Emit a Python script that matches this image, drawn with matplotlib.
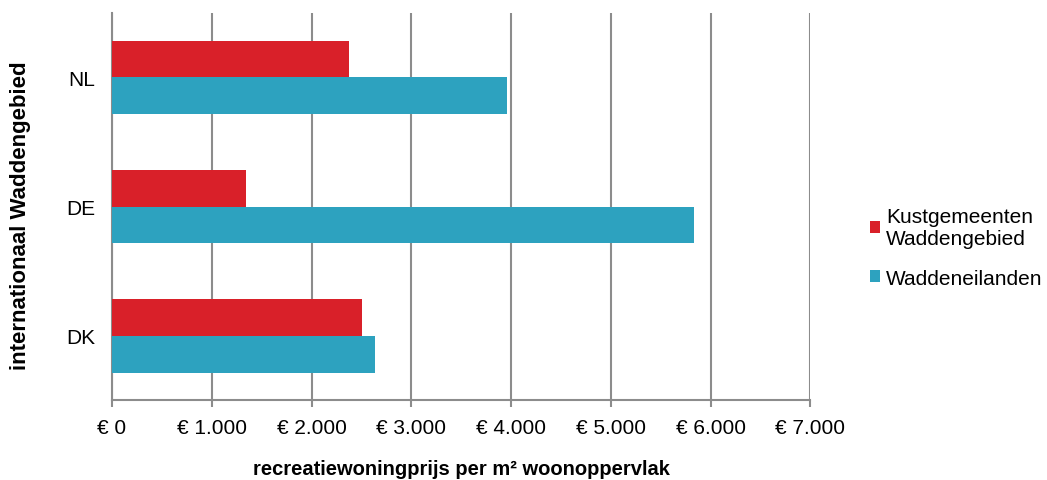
import numpy as np
import matplotlib.pyplot as plt

plt.rcParams['font.family'] = ['Liberation Sans', 'DejaVu Sans']

regions = ['DK', 'DE', 'NL']
kust = [2510, 1340, 2380]
eilanden = [2640, 5830, 3960]
ticks = [0, 1000, 2000, 3000, 4000, 5000, 6000, 7000]
tick_labels = ['€ 0', '€ 1.000', '€ 2.000', '€ 3.000', '€ 4.000', '€ 5.000', '€ 6.000', '€ 7.000']

red = '#D92029'
blue = '#2DA2BF'
grid = '#8C8C8C'

fig = plt.figure(figsize=(10.47, 4.81), dpi=100)
ax = fig.add_axes([0.107, 0.166, 0.667, 0.805])

y = np.arange(len(regions))
h = 0.286
ax.barh(y + h / 2, kust, height=h, color=red, label='Kustgemeenten\nWaddengebied', zorder=3)
ax.barh(y - h / 2, eilanden, height=h, color=blue, label='Waddeneilanden', zorder=3)

ax.set_xlim(0, 7000)
ax.set_ylim(-0.5, 2.5)
ax.set_xticks(ticks)
ax.set_xticklabels(tick_labels, fontsize=15)
ax.set_yticks(y)
ax.set_yticklabels(regions, fontsize=15)
ax.tick_params(axis='y', length=0, pad=12)
ax.tick_params(axis='x', length=5, width=1.5, color=grid, pad=8)
ax.grid(axis='x', color=grid, linewidth=1.5, zorder=0)

for s in ['top', 'right']:
    ax.spines[s].set_visible(False)
for s in ['left', 'bottom']:
    ax.spines[s].set_color(grid)
    ax.spines[s].set_linewidth(1.5)

ax.set_xlabel('recreatiewoningprijs per m² woonoppervlak', fontsize=14.5, fontweight='bold', labelpad=16)
ax.set_ylabel('internationaal Waddengebied', fontsize=16, fontweight='bold')
ax.yaxis.set_label_coords(-0.116, 0.478)

handles, labels = ax.get_legend_handles_labels()
ax.legend(handles, labels, loc='center left', bbox_to_anchor=(1.07, 0.395), frameon=False,
          borderpad=0, fontsize=15, handlelength=0.5, handleheight=0.5, handletextpad=0.3,
          labelspacing=1.0)

plt.savefig('out.png', dpi=100)
